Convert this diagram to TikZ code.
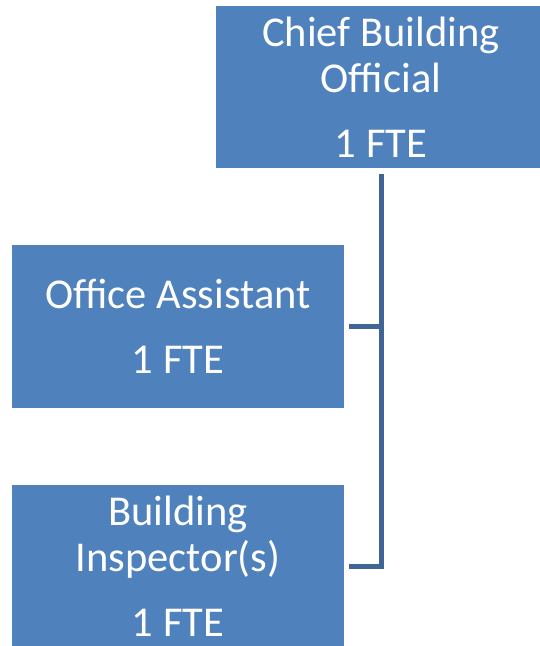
\documentclass[tikz,border=0pt]{standalone}
\usepackage{fontspec}
\setmainfont{Carlito}

\definecolor{postblue}{RGB}{79,129,189}
\definecolor{linkblue}{RGB}{62,101,150}

\begin{document}
\begin{tikzpicture}[x=1pt, y=-1pt,
    post/.style={fill=postblue, text=white, align=center, inner sep=0pt,
        minimum width=332pt, minimum height=162pt,
        font=\fontsize{42.5}{45.5}\selectfont},
    link/.style={draw=linkblue, line width=5pt, line join=miter}]
    \useasboundingbox (0, 0) rectangle (540, 646);

    % Posts
    \node[post, minimum width=330pt] (cbo) at (381, 87) {Chief Building\\Official\\[19.5pt]1 FTE};
    \node[post, minimum height=163pt] (asst) at (178, 326.5) {Office Assistant\\[19.5pt]1 FTE};
    \node[post] (insp) at (178, 566) {Building\\Inspector(s)\\[19.5pt]1 FTE};

    % Reporting lines
    \coordinate (trunk) at (381.8, 174);
    \coordinate (forkA) at (384, 326.6);
    \coordinate (forkB) at (381.8, 566.5);
    \draw[link] (trunk) -- (forkB) -- ([xshift=5pt]insp.east |- forkB);
    \draw[link] (forkA) -- ([xshift=5pt]asst.east |- forkA);
\end{tikzpicture}
\end{document}
